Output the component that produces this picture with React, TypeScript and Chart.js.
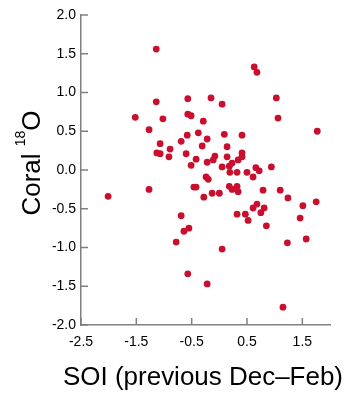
import React, { useEffect, useRef } from "react";
import { Chart, registerables } from "chart.js";
Chart.register(...registerables);

const soi = [
  -1.14, -1.14, -1.52, -1.02, -1.27, -1.07, -1.13, -1.07, -0.89, -0.91,
  -0.69, -1.27, -2.01, -0.57, -0.15, 0.05, 0.63, 0.68, 1.03, -0.57,
  -0.51, -0.29, 1.06, 1.77, -0.58, -0.38, -0.22, 0.09, 0.41, -0.31,
  0.14, -0.6, -0.42, 0.41, 0.41, -0.08, -0.11, 0.14, -0.51, -0.22,
  0.05, 0.18, 0.23, 0.34, 0.19, 0.32, 0.5, 0.66, 0.72, 0.61,
  0.94, -0.24, -0.2, -0.46, -0.42, -0.28, -0.13, 0.0, 0.18, 0.23,
  0.32, 0.34, 0.79, 1.1, 1.24, -0.69, -0.55, -0.64, -0.78, -0.57,
  -0.22, 0.05, 1.15, 0.32, 0.47, 0.52, 0.61, 0.68, 0.75, 0.81,
  0.85, 1.23, 1.57, 1.46, 1.51, 1.75,
];
const coral = [
  1.56, 0.88, 0.68, 0.66, 0.52, 0.34, 0.22, 0.21, 0.27, 0.17,
  0.37, -0.25, -0.34, 0.92, 0.93, 0.85, 1.33, 1.26, 0.93, 0.72,
  0.7, 0.63, 0.67, 0.5, 0.45, 0.48, 0.4, 0.46, 0.45, 0.31,
  0.3, 0.21, 0.14, 0.22, 0.17, 0.18, 0.13, 0.17, 0.06, 0.1,
  0.04, 0.05, 0.09, 0.13, -0.03, -0.03, -0.03, 0.03, -0.01, -0.09,
  0.04, -0.09, -0.12, -0.22, -0.22, -0.35, -0.3, -0.3, -0.21, -0.25,
  -0.21, -0.28, -0.26, -0.26, -0.36, -0.59, -0.75, -0.79, -0.93, -1.34,
  -1.47, -1.02, -1.77, -0.57, -0.57, -0.65, -0.49, -0.44, -0.55, -0.49,
  -0.72, -0.94, -0.89, -0.62, -0.46, -0.41,
];
const xTicks = [-2.5, -1.5, -0.5, 0.5, 1.5];
const yTicks = [-2, -1.5, -1, -0.5, 0, 0.5, 1, 1.5, 2];
const xTitle = "SOI (previous Dec\u2013Feb)";
const yTitleMain = "Coral ";
const yTitleSup = "18";
const yTitleEnd = "O";

const FONT = "'Liberation Sans', Arial, Helvetica, sans-serif";
const AXIS_COLOR = "#808080";
const POINT_COLOR = "#c8102e";

const decorPlugin = {
  id: "decor",
  afterDraw(chart: any) {
    const { ctx, scales, chartArea } = chart;
    const xs = scales.x;
    const ys = scales.y;
    ctx.save();
    ctx.strokeStyle = AXIS_COLOR;
    ctx.lineWidth = 1.5;
    ctx.beginPath();
    xTicks.forEach((v) => {
      const px = xs.getPixelForValue(v);
      ctx.moveTo(px, chartArea.bottom);
      ctx.lineTo(px, chartArea.bottom - 7);
    });
    yTicks.forEach((v) => {
      const py = ys.getPixelForValue(v);
      ctx.moveTo(chartArea.left, py);
      ctx.lineTo(chartArea.left + 7, py);
    });
    ctx.stroke();

    ctx.fillStyle = "#000";
    ctx.textBaseline = "alphabetic";

    // x title: 26px text stretched horizontally to the reference width
    ctx.save();
    ctx.textAlign = "center";
    ctx.font = `26px ${FONT}`;
    const wx = ctx.measureText(xTitle).width;
    const k = Math.min(1.25, Math.max(0.85, 280 / wx));
    ctx.translate(203, 385);
    ctx.scale(k, 1);
    ctx.fillText(xTitle, 0, 0);
    ctx.restore();

    // rotated y title with superscript
    ctx.textAlign = "left";
    const bigFont = `26px ${FONT}`;
    const smallFont = `14px ${FONT}`;
    ctx.font = bigFont;
    const w1 = ctx.measureText(yTitleMain).width;
    const w3 = ctx.measureText(yTitleEnd).width;
    ctx.font = smallFont;
    const w2 = ctx.measureText(yTitleSup).width;
    const total = w1 + w2 + w3;
    ctx.translate(40, 163);
    ctx.rotate(-Math.PI / 2);
    let x0 = -total / 2;
    ctx.font = bigFont;
    ctx.fillText(yTitleMain, x0, 0);
    x0 += w1;
    ctx.font = smallFont;
    ctx.fillText(yTitleSup, x0, -15);
    x0 += w2;
    ctx.font = bigFont;
    ctx.fillText(yTitleEnd, x0, 0);
    ctx.restore();
  },
};

export default function App() {
  const ref = useRef<HTMLCanvasElement | null>(null);
  useEffect(() => {
    if (!ref.current) return;
    const chart = new Chart(ref.current, {
      type: "scatter",
      data: {
        datasets: [
          {
            data: soi.map((x, i) => ({ x, y: coral[i] })),
            backgroundColor: POINT_COLOR,
            borderColor: POINT_COLOR,
            borderWidth: 0,
            pointRadius: 3.4,
            pointHoverRadius: 3.4,
          },
        ],
      },
      plugins: [decorPlugin],
      options: {
        animation: false,
        responsive: true,
        maintainAspectRatio: false,
        layout: { padding: { left: 0, top: 15, right: 30, bottom: 0 } },
        plugins: { legend: { display: false }, tooltip: { enabled: false }, title: { display: false } },
        scales: {
          x: {
            type: "linear",
            min: -2.5,
            max: 2.0,
            afterBuildTicks: (s: any) => {
              s.ticks = xTicks.map((v) => ({ value: v }));
            },
            afterFit: (s: any) => {
              s.height = 75;
            },
            grid: { display: false, drawTicks: false },
            border: { display: true, color: AXIS_COLOR, width: 1.5 },
            ticks: {
              padding: 9,
              color: "#000",
              font: { family: FONT, size: 14 },
              maxRotation: 0,
              autoSkip: false,
              callback: (v: any) => Number(v).toFixed(1),
            },
          },
          y: {
            type: "linear",
            min: -2,
            max: 2,
            afterBuildTicks: (s: any) => {
              s.ticks = yTicks.map((v) => ({ value: v }));
            },
            afterFit: (s: any) => {
              s.width = 81;
            },
            grid: { display: false, drawTicks: false },
            border: { display: true, color: AXIS_COLOR, width: 1.5 },
            ticks: {
              padding: 5,
              color: "#000",
              font: { family: FONT, size: 14 },
              autoSkip: false,
              callback: (v: any) => Number(v).toFixed(1),
            },
          },
        },
      },
    });
    return () => chart.destroy();
  }, []);
  return (
    <div style={{ position: "fixed", left: 0, top: 0, width: 360, height: 400, background: "#fff" }}>
      <canvas ref={ref} />
    </div>
  );
}
